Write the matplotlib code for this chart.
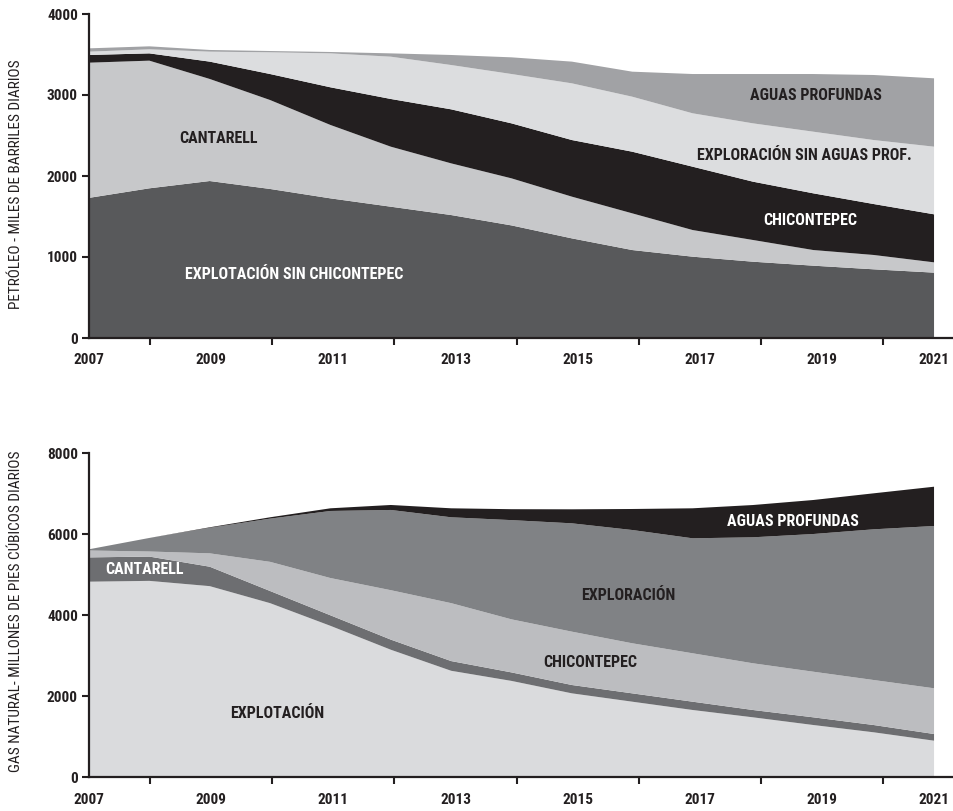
import numpy as np
import matplotlib
matplotlib.use('Agg')
import matplotlib.pyplot as plt
from matplotlib import font_manager

years = [2007, 2008, 2009, 2010, 2011, 2012, 2013, 2014, 2015, 2016, 2017, 2018, 2019, 2020, 2021]

# petroleo - miles de barriles diarios
oil_explotacion = [1730, 1848, 1938, 1840, 1724, 1621, 1518, 1390, 1230, 1086, 1004, 942, 893, 848, 807]
oil_cantarell = [1669, 1576, 1260, 1098, 906, 741, 638, 581, 515, 453, 329, 268, 193, 177, 127]
oil_chicontepec = [95, 90, 214, 321, 465, 589, 667, 679, 699, 761, 782, 720, 700, 629, 593]
oil_exploracion = [41, 50, 123, 268, 419, 522, 547, 609, 700, 679, 659, 720, 761, 790, 835]
oil_aguas = [41, 37, 21, 16, 17, 41, 124, 206, 268, 309, 485, 609, 712, 803, 844]

# gas natural - millones de pies cubicos diarios
gas_explotacion = [4830, 4850, 4720, 4300, 3740, 3150, 2630, 2380, 2073, 1867, 1662, 1481, 1291, 1111, 904]
gas_cantarell = [600, 600, 480, 300, 260, 250, 240, 210, 206, 206, 205, 181, 190, 180, 165]
gas_chicontepec = [170, 125, 330, 720, 920, 1220, 1430, 1310, 1317, 1236, 1195, 1153, 1126, 1111, 1129]
gas_exploracion = [30, 335, 630, 1067, 1656, 1981, 2120, 2450, 2675, 2797, 2839, 3111, 3400, 3721, 4007]
gas_aguas = [0, 0, 13, 33, 66, 123, 222, 270, 346, 519, 741, 797, 840, 889, 970]

tick_years = ['2007', '', '2009', '', '2011', '', '2013', '', '2015', '', '2017', '', '2019', '']

# pick a narrow font if there is one
names = {f.name for f in font_manager.fontManager.ttflist}
FAM, STRETCH, NARROW = 'DejaVu Sans', 'condensed', False
for cand in ['Liberation Sans Narrow', 'Roboto Condensed', 'Open Sans Condensed']:
    if cand in names:
        FAM, STRETCH, NARROW = cand, 'normal', True
        break

if NARROW:
    TICK_FS, LAB_FS, AX_FS = 11, 11.5, 11
else:
    TICK_FS, LAB_FS, AX_FS = 10.5, 10, 10

fig = plt.figure(figsize=(9.54, 8.11), dpi=100)

ax1 = fig.add_axes([89 / 954, 473 / 811, 865 / 954, 324 / 811])
ax2 = fig.add_axes([89 / 954, 33.7 / 811, 865 / 954, 324 / 811])

ax1.stackplot(years, oil_explotacion, oil_cantarell, oil_chicontepec, oil_exploracion, oil_aguas,
              colors=['#58595b', '#c7c8ca', '#231f20', '#dcdddf', '#a1a2a5'], linewidth=0)
ax2.stackplot(years, gas_explotacion, gas_cantarell, gas_chicontepec, gas_exploracion, gas_aguas,
              colors=['#dadbdd', '#6d6e71', '#bcbdc0', '#808285', '#231f20'], linewidth=0)

ax1.set_ylim(0, 4000)
ax1.set_yticks([0, 1000, 2000, 3000, 4000])
ax2.set_ylim(0, 8000)
ax2.set_yticks([0, 2000, 4000, 6000, 8000])

# tick marks are a little wider apart than the data years in the original
step = 61.1 / 60.36
tick_pos = [years[0] + k * step for k in range(14)]

for ax in (ax1, ax2):
    ax.set_xlim(2007, 2007 + 865 / 60.36)
    ax.spines['top'].set_visible(False)
    ax.spines['right'].set_visible(False)
    for s in ('left', 'bottom'):
        ax.spines[s].set_linewidth(1.6)
        ax.spines[s].set_color('#231f20')
    ax.set_xticks(tick_pos, minor=True)
    major = [tick_pos[k] for k in range(0, 14, 2)] + [2021]
    ax.set_xticks(major)
    ax.set_xticklabels([t for t in tick_years if t] + ['2021'])
    ax.tick_params(axis='x', which='minor', length=5, width=1.5, color='#231f20', direction='out')
    ax.tick_params(axis='x', which='major', length=0, pad=11)
    ax.tick_params(axis='y', length=5, width=1.5, color='#231f20', pad=3)
    for lab in ax.get_xticklabels() + ax.get_yticklabels():
        lab.set_family(FAM)
        lab.set_fontstretch(STRETCH)
        lab.set_fontweight('bold')
        lab.set_fontsize(TICK_FS)
        lab.set_color('#231f20')
    ax.set_facecolor('none')

def label(ax, x, y, s, c):
    ax.text(x, y, s, ha='center', va='center', color=c, fontsize=LAB_FS, fontweight='bold',
            family=FAM, fontstretch=STRETCH)

label(ax1, 2009.14, 2457, 'CANTARELL', '#231f20')
label(ax1, 2010.4, 778, 'EXPLOTACIÓN SIN CHICONTEPEC', 'white')
label(ax1, 2019.05, 2988, 'AGUAS PROFUNDAS', '#231f20')
label(ax1, 2018.85, 2251, 'EXPLORACIÓN SIN AGUAS PROF.', '#231f20')
label(ax1, 2018.95, 1448, 'CHICONTEPEC', 'white')

label(ax2, 2007.92, 5143, 'CANTARELL', 'white')
label(ax2, 2010.11, 1563, 'EXPLOTACIÓN', '#231f20')
label(ax2, 2015.94, 4477, 'EXPLORACIÓN', '#231f20')
label(ax2, 2015.31, 2830, 'CHICONTEPEC', '#231f20')
label(ax2, 2018.67, 6328, 'AGUAS PROFUNDAS', 'white')

fig.text(16 / 954, 1 - 184 / 811, 'PETRÓLEO - MILES DE BARRILES DIARIOS', rotation=90,
         ha='center', va='center', fontsize=AX_FS, family=FAM, fontstretch=STRETCH, color='#231f20')
fig.text(16 / 954, 1 - 611 / 811, 'GAS NATURAL- MILLONES DE PIES CÚBICOS DIARIOS', rotation=90,
         ha='center', va='center', fontsize=AX_FS, family=FAM, fontstretch=STRETCH, color='#231f20')

fig.savefig('out.png', dpi=100)
